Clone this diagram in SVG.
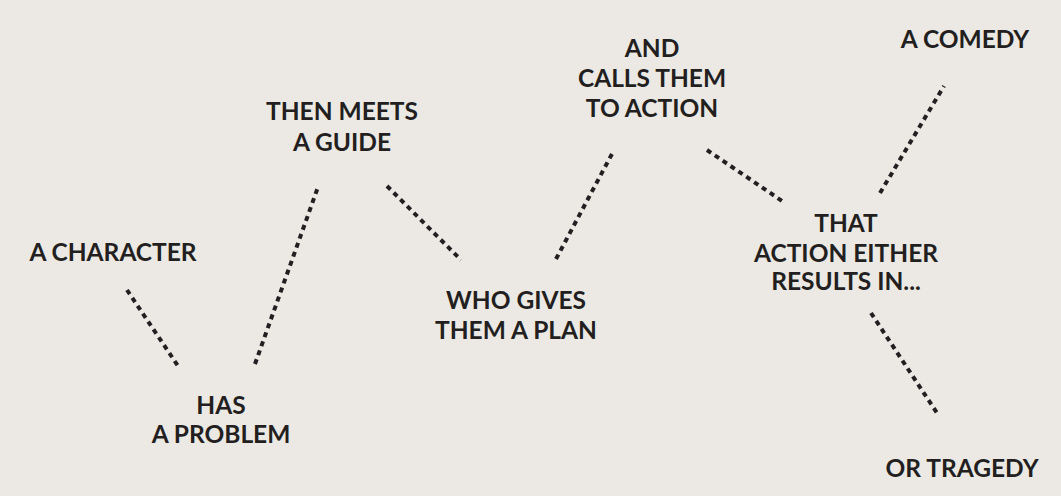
<svg xmlns="http://www.w3.org/2000/svg" width="1061" height="496" viewBox="0 0 1061 496">
<style>
text{font-family:Lato,"Open Sans","Liberation Sans",sans-serif;font-weight:700;font-size:24.5px;fill:#231F20;text-anchor:middle}
.c line{stroke:#231F20;stroke-width:4;stroke-dasharray:5 4.5;fill:none}
</style>
<rect width="1061" height="496" fill="#ECE9E5"/>
<g class="c" id="connectors">
<line x1="127" y1="290" x2="178" y2="366"/>
<line x1="255" y1="364" x2="318" y2="187"/>
<line x1="387" y1="186" x2="461" y2="260"/>
<line x1="556" y1="259" x2="613" y2="152"/>
<line x1="707" y1="150" x2="785" y2="203"/>
<line x1="880" y1="193" x2="944" y2="86"/>
<line x1="871" y1="313" x2="939" y2="416"/>
</g>
<g id="character"><text x="113" y="261">A CHARACTER</text></g>
<g id="problem"><text x="221" y="414">HAS</text><text x="221" y="443">A PROBLEM</text></g>
<g id="guide"><text x="342" y="120">THEN MEETS</text><text x="342" y="151">A GUIDE</text></g>
<g id="plan"><text x="516" y="309">WHO GIVES</text><text x="516" y="339">THEM A PLAN</text></g>
<g id="action"><text x="652" y="57">AND</text><text x="652" y="87">CALLS THEM</text><text x="652" y="117">TO ACTION</text></g>
<g id="results"><text x="846" y="232">THAT</text><text x="846" y="262">ACTION EITHER</text><text x="846" y="290">RESULTS IN...</text></g>
<g id="comedy"><text x="965" y="48">A COMEDY</text></g>
<g id="tragedy"><text x="962" y="477">OR TRAGEDY</text></g>
</svg>
